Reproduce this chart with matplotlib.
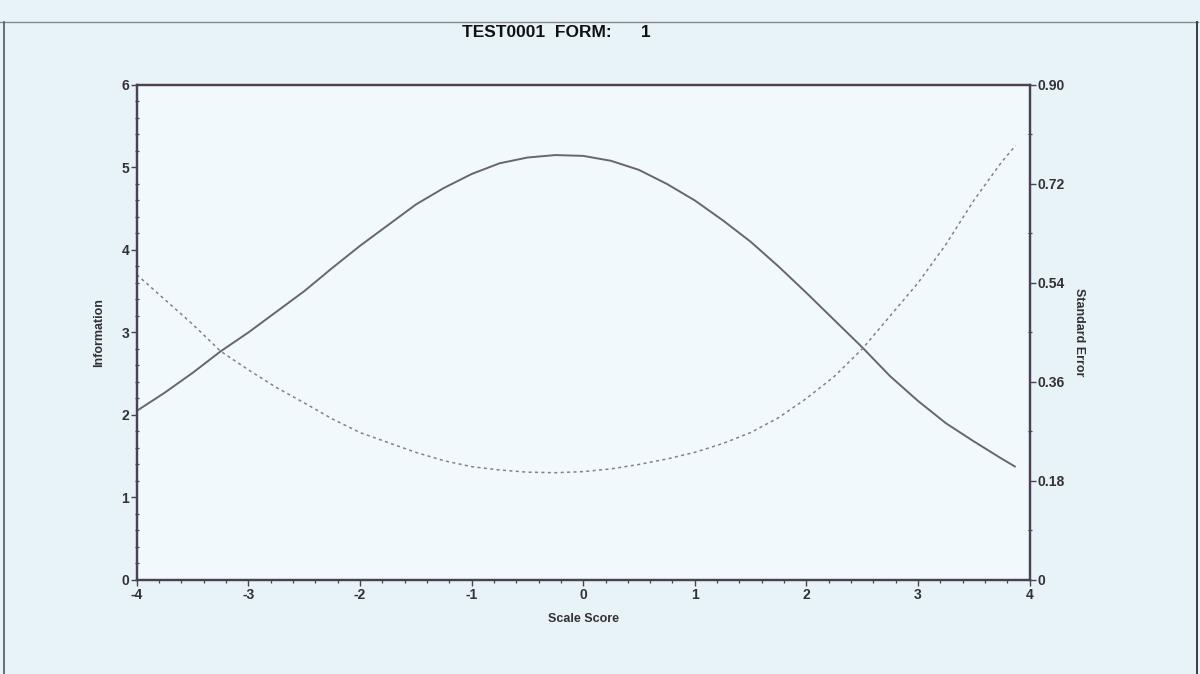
import matplotlib
matplotlib.use("Agg")
import matplotlib.pyplot as plt
from matplotlib.lines import Line2D
from matplotlib.ticker import MultipleLocator

plt.rcParams['font.family'] = ['Liberation Sans', 'DejaVu Sans']

# ---- data ----
theta = [-4.0, -3.75, -3.5, -3.25, -3.0, -2.75, -2.5, -2.25, -2.0, -1.75,
         -1.5, -1.25, -1.0, -0.75, -0.5, -0.25, 0.0, 0.25, 0.5, 0.75,
         1.0, 1.25, 1.5, 1.75, 2.0, 2.25, 2.5, 2.75, 3.0, 3.25,
         3.5, 3.75, 3.875]
information = [2.05, 2.27, 2.51, 2.77, 3.00, 3.25, 3.50, 3.78, 4.05, 4.30,
               4.55, 4.75, 4.92, 5.05, 5.12, 5.15, 5.14, 5.08, 4.97, 4.80,
               4.60, 4.36, 4.10, 3.80, 3.48, 3.15, 2.82, 2.47, 2.17, 1.90,
               1.68, 1.47, 1.37]
standard_error = [0.555, 0.510, 0.465, 0.416, 0.382, 0.350, 0.322, 0.293, 0.268, 0.250,
                  0.232, 0.217, 0.206, 0.200, 0.196, 0.195, 0.197, 0.202, 0.210, 0.220,
                  0.232, 0.248, 0.268, 0.295, 0.330, 0.370, 0.420, 0.480, 0.540, 0.610,
                  0.690, 0.760, 0.790]

x_ticks = [-4, -3, -2, -1, 0, 1, 2, 3, 4]
x_ticklabels = ["-4", "-3", "-2", "-1", "0", "1", "2", "3", "4"]
info_ticks = [0, 1, 2, 3, 4, 5, 6]
info_ticklabels = ["0", "1", "2", "3", "4", "5", "6"]
se_ticks = [0, 0.18, 0.36, 0.54, 0.72, 0.90]
se_ticklabels = ["0", "0.18", "0.36", "0.54", "0.72", "0.90"]

title_text = "TEST0001  FORM:      1"
x_label = "Scale Score"
left_label = "Information"
right_label = "Standard Error"

# ---- styling ----
bg = '#e8f3f8'
plot_bg = '#f2f9fc'
spine_col = '#4a4252'
curve_col = '#6a6372'
dot_col = '#857f8c'
text_col = '#333036'

fig = plt.figure(figsize=(12, 6.74), dpi=100, facecolor=bg)
ax = fig.add_axes([0.114, 0.1395, 0.744, 0.7345], facecolor=plot_bg)
ax2 = ax.twinx()

ax.plot(theta, information, color=curve_col, lw=1.4, solid_capstyle='butt',
        solid_joinstyle='round')
ax2.plot(theta, standard_error, color=dot_col, lw=1.1, linestyle=(0, (2.0, 2.2)))

ax.set_xlim(-4, 4)
ax.set_ylim(0, 6)
ax2.set_ylim(0, 0.9)

ax.set_xticks(x_ticks)
ax.set_xticklabels(x_ticklabels)
ax.set_yticks(info_ticks)
ax.set_yticklabels(info_ticklabels)
ax2.set_yticks(se_ticks)
ax2.set_yticklabels(se_ticklabels)
ax.xaxis.set_minor_locator(MultipleLocator(0.2))
ax.yaxis.set_minor_locator(MultipleLocator(0.2))
ax2.yaxis.set_minor_locator(MultipleLocator(0.09))

for a in (ax, ax2):
    for s in a.spines.values():
        s.set_color(spine_col)
        s.set_linewidth(1.6)
    a.tick_params(which='major', length=4, width=1.0, color=spine_col,
                  labelsize=10, labelcolor=text_col, pad=1.5)
    a.tick_params(which='minor', length=2.5, width=0.9, color=spine_col,
                  direction='inout')
    for lab in a.get_xticklabels() + a.get_yticklabels():
        lab.set_fontweight('bold')

ax.tick_params(axis='x', which='minor', direction='out')

ax.set_xlabel(x_label, fontsize=9, fontweight='bold', color=text_col, labelpad=8)
ax.set_ylabel(left_label, fontsize=9, fontweight='bold', color=text_col, labelpad=12)
ax2.set_ylabel(right_label, fontsize=9, fontweight='bold', color=text_col,
               rotation=270, labelpad=15)

fig.text(0.464, 0.952, title_text, ha='center', va='center', fontsize=12.5,
         fontweight='bold', color='#111111')

# scan frame lines
fig.add_artist(Line2D([0.0, 0.998], [0.968, 0.968], transform=fig.transFigure,
                      color='#8a8a90', lw=1.0))
fig.add_artist(Line2D([0.9975, 0.9975], [0.0, 0.968], transform=fig.transFigure,
                      color='#3a3a40', lw=1.4))
fig.add_artist(Line2D([0.003, 0.003], [0.0, 0.968], transform=fig.transFigure,
                      color='#555560', lw=1.2))

fig.savefig('out.png', dpi=100, facecolor=bg)
